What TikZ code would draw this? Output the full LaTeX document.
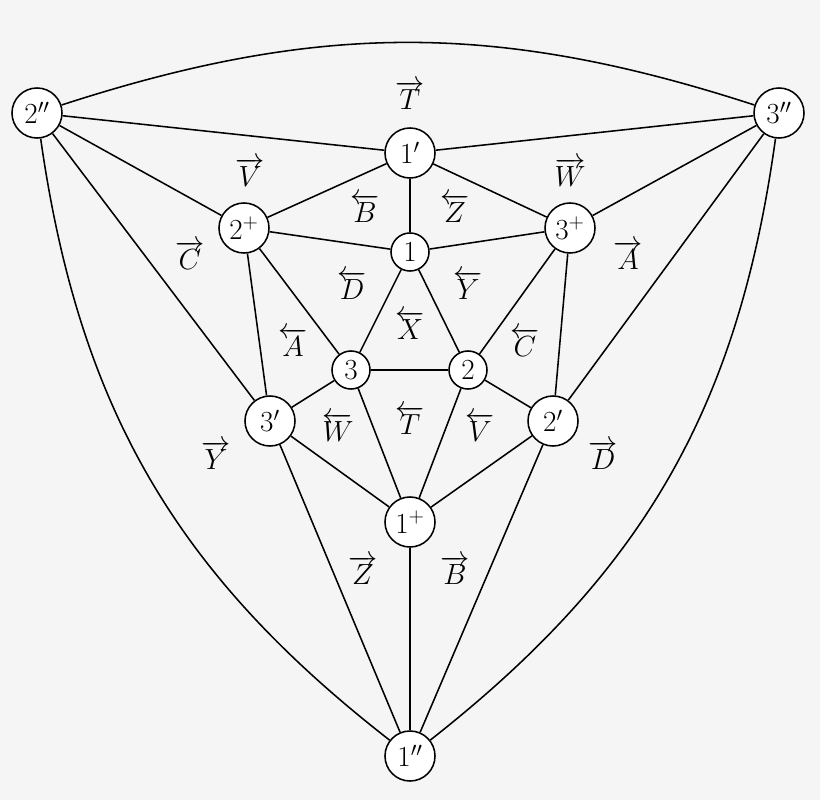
\documentclass[tikz,border=0pt]{standalone}
\begin{document}
\begin{tikzpicture}[x=0.025cm,y=-0.025cm,line width=1.1pt,
  big/.style={circle,draw,fill=white,minimum size=1.25cm,inner sep=0pt,font=\huge},
  small/.style={circle,draw,fill=white,minimum size=0.95cm,inner sep=0pt,font=\huge},
  lab/.style={font=\huge}]
\fill[white!96!black] (0,0) rectangle (820,800);
\useasboundingbox (0,0) rectangle (820,800);
\node[big] (a2) at (37,113) {$2''$};
\node[big] (a3) at (779,113) {$3''$};
\node[big] (a1) at (410,756) {$1''$};
\node[big] (p1) at (410,153) {$1'$};
\node[big] (q2) at (244,228) {$2^+$};
\node[big] (q3) at (570,228) {$3^+$};
\node[small] (n1) at (410,252) {$1$};
\node[small] (n3) at (351,370) {$3$};
\node[small] (n2) at (468,370) {$2$};
\node[big] (p3) at (270,421) {$3'$};
\node[big] (p2) at (553,421) {$2'$};
\node[big] (q1) at (410,522) {$1^+$};
\draw (a2) to[bend left=18] (a3);
\draw (a2) to[bend right=22] (a1);
\draw (a3) to[bend left=22] (a1);
\foreach \u/\v in {a2/p1,p1/a3,a2/q2,a2/p3,a3/q3,a3/p2,p1/q2,p1/n1,p1/q3,q2/n1,n1/q3,q2/p3,q2/n3,q3/n2,q3/p2,n1/n3,n1/n2,n3/n2,n3/p3,n3/q1,n2/q1,n2/p2,p3/q1,p2/q1,p3/a1,p2/a1,q1/a1}
  \draw (\u) -- (\v);
\node[lab] (l1) at (410,95) {$\overrightarrow{T}$};
\node[lab] (l2) at (365,208) {$\overleftarrow{B}$};
\node[lab] (l3) at (455,208) {$\overleftarrow{Z}$};
\node[lab] (l4) at (250,172) {$\overrightarrow{V}$};
\node[lab] (l5) at (570,172) {$\overrightarrow{W}$};
\node[lab] (l6) at (190,255) {$\overrightarrow{C}$};
\node[lab] (l7) at (628,255) {$\overrightarrow{A}$};
\node[lab] (l8) at (352,285) {$\overleftarrow{D}$};
\node[lab] (l9) at (468,285) {$\overleftarrow{Y}$};
\node[lab] (l10) at (410,325) {$\overleftarrow{X}$};
\node[lab] (l11) at (293,342) {$\overleftarrow{A}$};
\node[lab] (l12) at (525,342) {$\overleftarrow{C}$};
\node[lab] (l13) at (338,427) {$\overleftarrow{W}$};
\node[lab] (l14) at (410,420) {$\overleftarrow{T}$};
\node[lab] (l15) at (480,427) {$\overleftarrow{V}$};
\node[lab] (l16) at (216,455) {$\overrightarrow{Y}$};
\node[lab] (l17) at (603,455) {$\overrightarrow{D}$};
\node[lab] (l18) at (363,570) {$\overrightarrow{Z}$};
\node[lab] (l19) at (455,570) {$\overrightarrow{B}$};
\end{tikzpicture}
\end{document}
